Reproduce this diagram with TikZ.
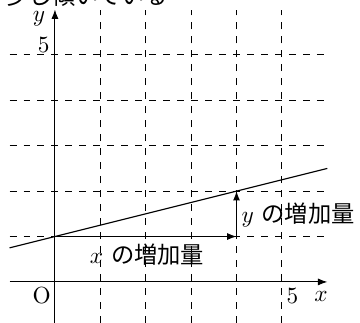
\documentclass[tikz,border=0pt]{standalone}
\usepackage{fontspec}
\newfontfamily\jpfont{Noto Sans CJK JP}
\usetikzlibrary{arrows.meta}
\begin{document}
\begin{tikzpicture}[x=0.685cm,y=0.685cm,
  gridline/.style={dashed,line width=0.4pt},
  axis/.style={line width=0.4pt,-{Latex[length=4pt,width=3pt]}},
  incr/.style={line width=0.5pt,-{Latex[length=4pt,width=3pt]}},
  lbl/.style={inner sep=0pt,font=\fontsize{10}{12}\selectfont}]
\useasboundingbox (-1.21,-0.90) rectangle (6.72,6.21);
% cropped caption above
\node[lbl,anchor=base west] (cap) at (-1.10,6.12) {\jpfont 少し傾いている};
% grid
\foreach \i in {1,...,5}{
  \draw[gridline] (\i,-0.9) -- (\i,6);
  \draw[gridline] (-1,\i) -- (6,\i);
}
% axes
\coordinate (xs) at (-1,0);
\coordinate (xe) at (6,0);
\coordinate (ys) at (0,-0.9);
\coordinate (ye) at (0,6);
\draw[axis] (xs) -- (xe);
\draw[axis] (ys) -- (ye);
% line
\coordinate (ls) at (-1,0.75);
\coordinate (le) at (6,2.5);
\draw[line width=0.5pt] (ls) -- (le);
% increments
\coordinate (P) at (0,1);
\coordinate (Q) at (4,1);
\coordinate (R) at (4,2);
\draw[incr] (P) -- (Q);
\draw[incr] (Q) -- (R);
% labels
\node[lbl] (ylab) at (-0.35,5.80) {$y$};
\node[lbl] (y5) at (-0.25,5.21) {5};
\node[lbl] (O) at (-0.29,-0.31) {O};
\node[lbl] (x5) at (5.23,-0.31) {5};
\node[lbl] (xlab) at (5.86,-0.31) {$x$};
\node[lbl] (dx) at (2.03,0.60) {$x$ {\jpfont の増加量}};
\node[lbl,anchor=west] (dy) at (4.10,1.48) {$y$ {\jpfont の増加量}};
\end{tikzpicture}
\end{document}
